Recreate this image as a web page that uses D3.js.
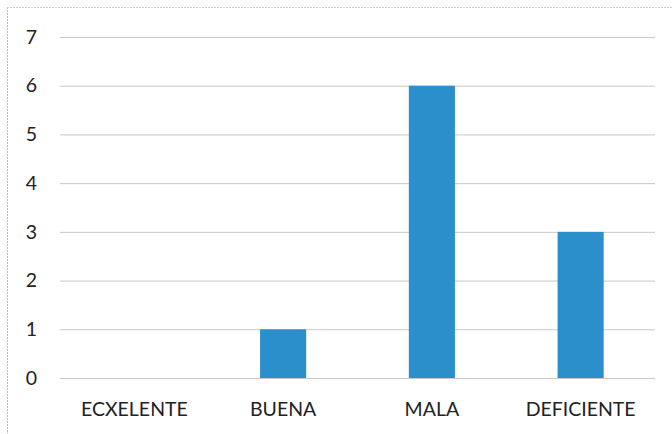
<!DOCTYPE html>
<html><head><meta charset="utf-8">
<script src="https://cdn.jsdelivr.net/npm/d3@7"></script>
<style>body{margin:0;background:#fff}svg{display:block}</style>
</head><body>
<svg id="c" width="672" height="434"></svg>
<script>
const categories = ["ECXELENTE", "BUENA", "MALA", "DEFICIENTE"];
const values = [0, 1, 6, 3];
const yTicks = [0, 1, 2, 3, 4, 5, 6, 7];

const svg = d3.select("#c");
const W = 672, H = 434;
const m = {left: 60, right: 17, top: 37, bottom: 56};
const x = d3.scaleBand().domain(categories).range([m.left, W - m.right]).paddingInner(0.69).paddingOuter(0.345);
const y = d3.scaleLinear().domain([0, 7]).range([H - m.bottom, m.top]);

svg.append("rect").attr("width", W).attr("height", H).attr("fill", "#fff");
// frame
svg.append("line").attr("x1", 7.5).attr("x2", 7.5).attr("y1", 7).attr("y2", H).attr("stroke", "#bbb").attr("stroke-dasharray", "2,1");
svg.append("line").attr("x1", 7).attr("x2", W).attr("y1", 7.5).attr("y2", 7.5).attr("stroke", "#ccc").attr("stroke-dasharray", "2,1");

const font = "Lato, 'Open Sans', sans-serif";
const yAxis = svg.append("g").attr("transform", `translate(${m.left},0)`)
  .call(d3.axisLeft(y).tickValues(yTicks).tickSize(-(W - m.left - m.right)).tickPadding(23).tickFormat(d3.format("d")));
yAxis.select(".domain").remove();
yAxis.selectAll(".tick line").attr("stroke", "#c8c8c8").attr("stroke-width", 1);
yAxis.selectAll(".tick text").attr("font-family", font).attr("font-size", 19.5).attr("fill", "#222");

svg.selectAll(".bar").data(values).enter().append("rect")
  .attr("x", (d, i) => x(categories[i]))
  .attr("width", x.bandwidth())
  .attr("y", d => y(d))
  .attr("height", d => y(0) - y(d))
  .attr("fill", "#2b8fcb");

const xAxis = svg.append("g").attr("transform", `translate(0,${y(0)})`)
  .call(d3.axisBottom(x).tickSize(0).tickPadding(24));
xAxis.select(".domain").remove();
xAxis.selectAll(".tick text").attr("font-family", font).attr("font-size", 19.5).attr("fill", "#222");
</script>
</body></html>
